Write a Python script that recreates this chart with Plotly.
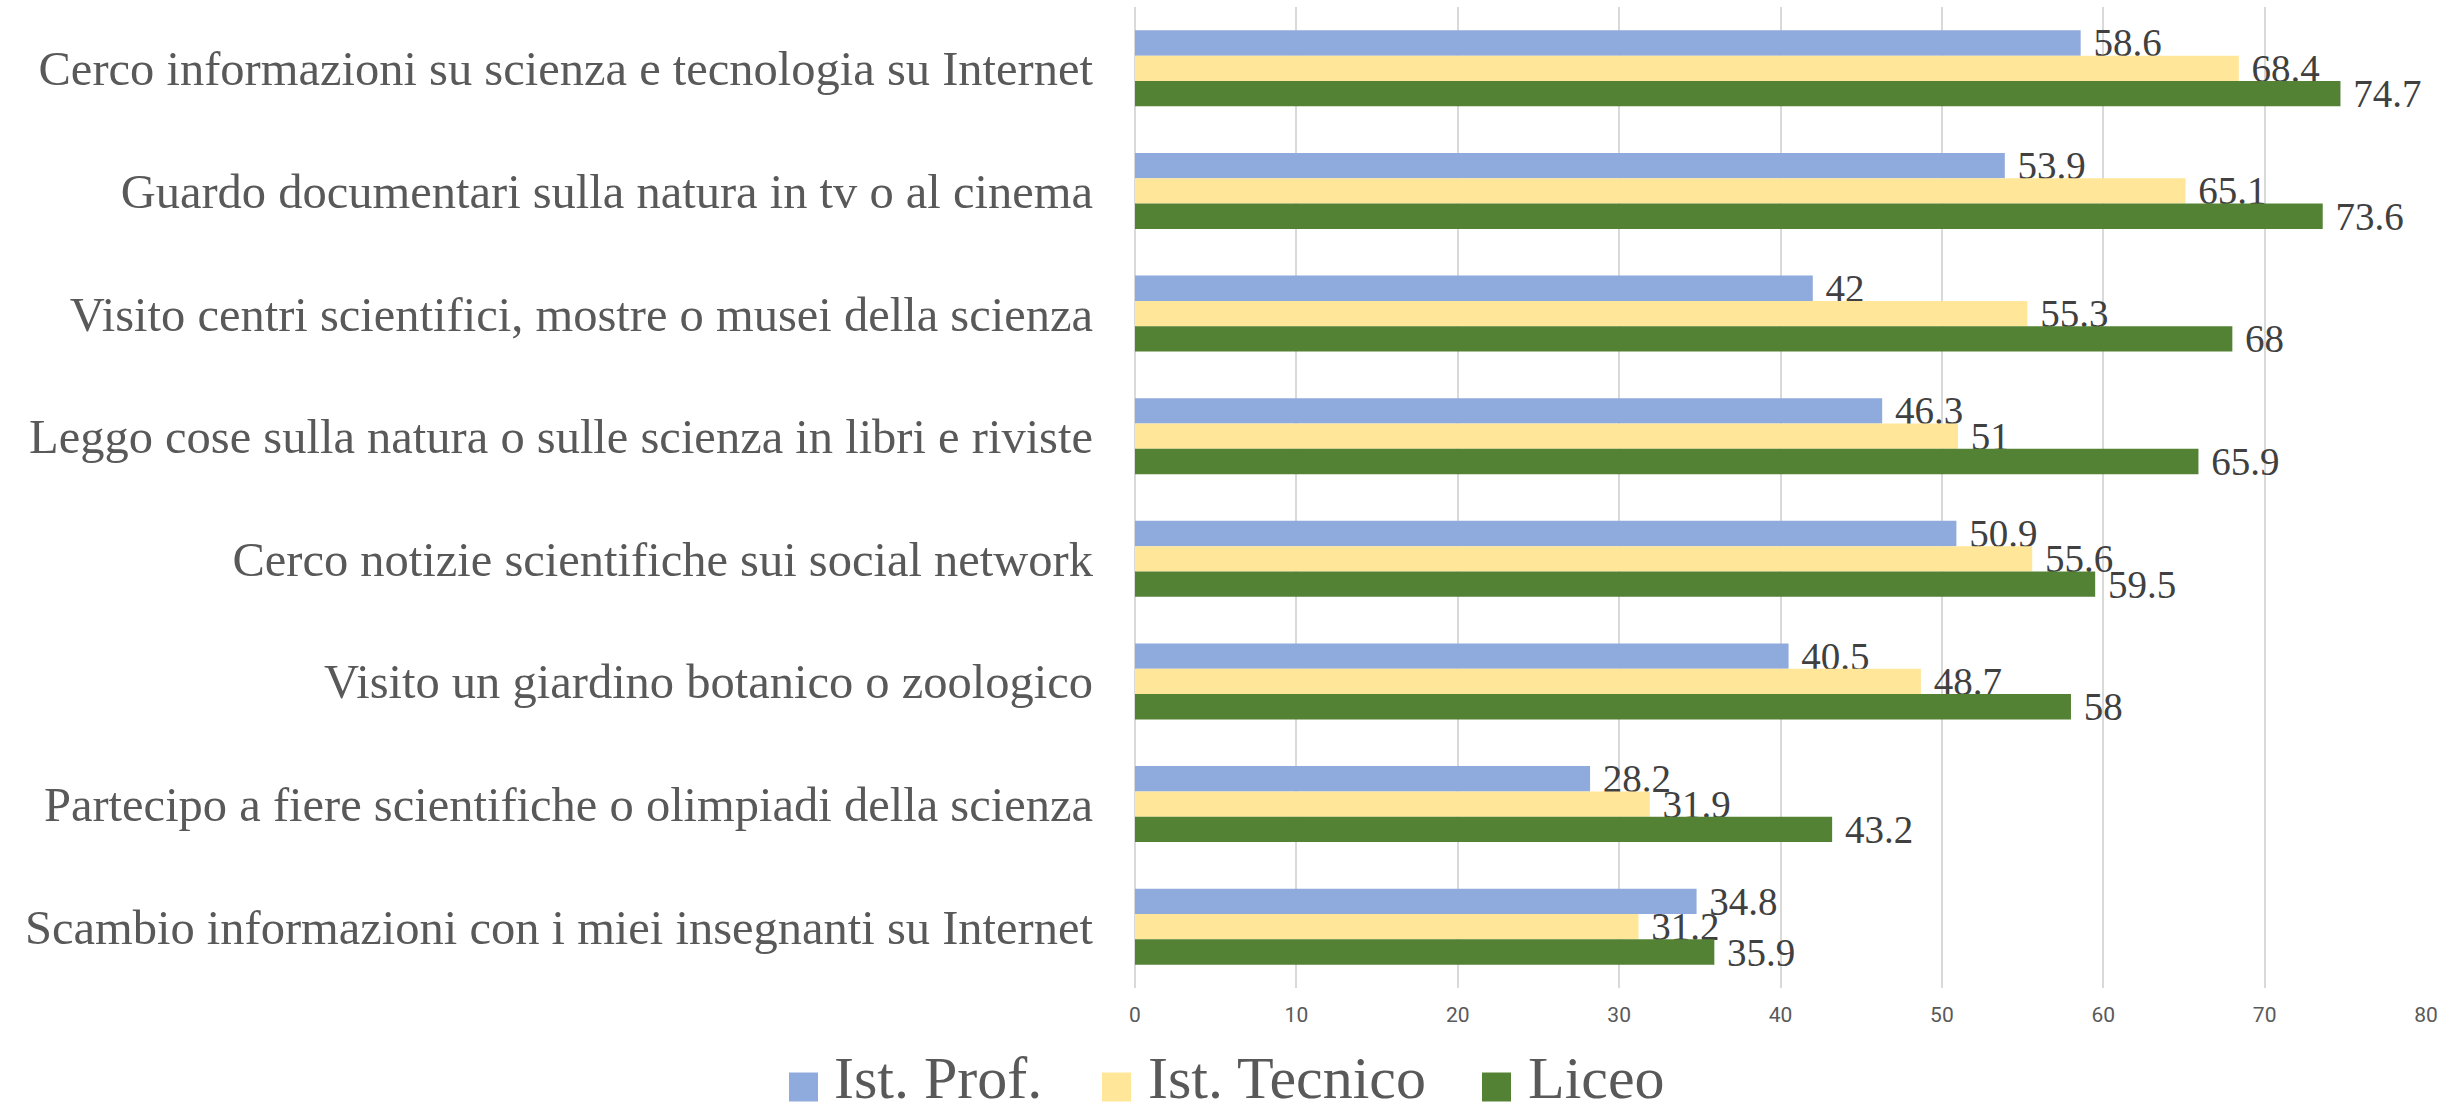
import plotly.graph_objects as go

categories = [
    "Cerco informazioni su scienza e tecnologia su Internet",
    "Guardo documentari sulla natura in tv o al cinema",
    "Visito centri scientifici, mostre o musei della scienza",
    "Leggo cose sulla natura o sulle scienza in libri e riviste",
    "Cerco notizie scientifiche sui social network",
    "Visito un giardino botanico o zoologico",
    "Partecipo a fiere scientifiche o olimpiadi della scienza",
    "Scambio informazioni con i miei insegnanti su Internet",
]
series_names = ["Ist. Prof.", "Ist. Tecnico", "Liceo"]
ist_prof = [58.6, 53.9, 42, 46.3, 50.9, 40.5, 28.2, 34.8]
ist_tecnico = [68.4, 65.1, 55.3, 51, 55.6, 48.7, 31.9, 31.2]
liceo = [74.7, 73.6, 68, 65.9, 59.5, 58, 43.2, 35.9]
x_ticks = [0, 10, 20, 30, 40, 50, 60, 70, 80]

colors = ["#8FAADC", "#FFE699", "#548235"]
serif = "Liberation Serif, Times New Roman, serif"

W, H = 2453, 1111
ML, MR, MT, MB = 1135, 27, 7, 123
PW, PH = W - ML - MR, H - MT - MB

fig = go.Figure()
for name, vals, col in zip(series_names, [ist_prof, ist_tecnico, liceo], colors):
    fig.add_trace(go.Bar(
        name=name, y=categories, x=vals, orientation="h",
        marker=dict(color=col, line=dict(width=0)),
        text=[f"\u00a0{v:g}" for v in vals],
        textposition="outside", constraintext="none", cliponaxis=False,
        textfont=dict(family=serif, size=39, color="#404040"),
        showlegend=False, hoverinfo="x+y",
    ))

# custom legend (large square symbols)
sym_left = [789, 1102, 1482]
txt_left = [832, 1146, 1526]
sym = 29
sym_cy = 1087
txt_cy = 1078
shapes, annots = [], []
for name, col, sx, tx in zip(series_names, colors, sym_left, txt_left):
    x0 = (sx - ML) / PW
    x1 = (sx + sym - ML) / PW
    y0 = (MT + PH - (sym_cy + sym / 2)) / PH
    y1 = (MT + PH - (sym_cy - sym / 2)) / PH
    shapes.append(dict(type="rect", xref="paper", yref="paper", x0=x0, x1=x1,
                       y0=y0, y1=y1, fillcolor=col, line=dict(width=0)))
    annots.append(dict(text=name, xref="paper", yref="paper",
                       x=(tx - ML) / PW, y=(MT + PH - txt_cy) / PH,
                       xanchor="left", yanchor="middle", showarrow=False,
                       font=dict(family=serif, size=60, color="#595959")))

fig.update_layout(
    width=W, height=H,
    margin=dict(l=ML, r=MR, t=MT, b=MB, pad=0, autoexpand=False),
    paper_bgcolor="white", plot_bgcolor="white",
    barmode="group", bargap=0.38, bargroupgap=0,
    shapes=shapes, annotations=annots,
    xaxis=dict(range=[0, 80], tickvals=x_ticks, showgrid=True,
               gridcolor="#D9D9D9", gridwidth=1.5, zeroline=True,
               zerolinecolor="#D9D9D9", zerolinewidth=1.5,
               showline=False, ticks="", ticklabelstandoff=12,
               automargin=False,
               tickfont=dict(family="Roboto, sans-serif", size=21, color="#595959")),
    yaxis=dict(type="category", autorange="reversed", showgrid=False,
               zeroline=False, showline=False, ticks="",
               ticklabelstandoff=41, automargin=False,
               tickfont=dict(family=serif, size=48.5, color="#595959")),
)

fig.write_html("out.html", config={"displayModeBar": False},
               post_script="document.body.style.margin='0';")
